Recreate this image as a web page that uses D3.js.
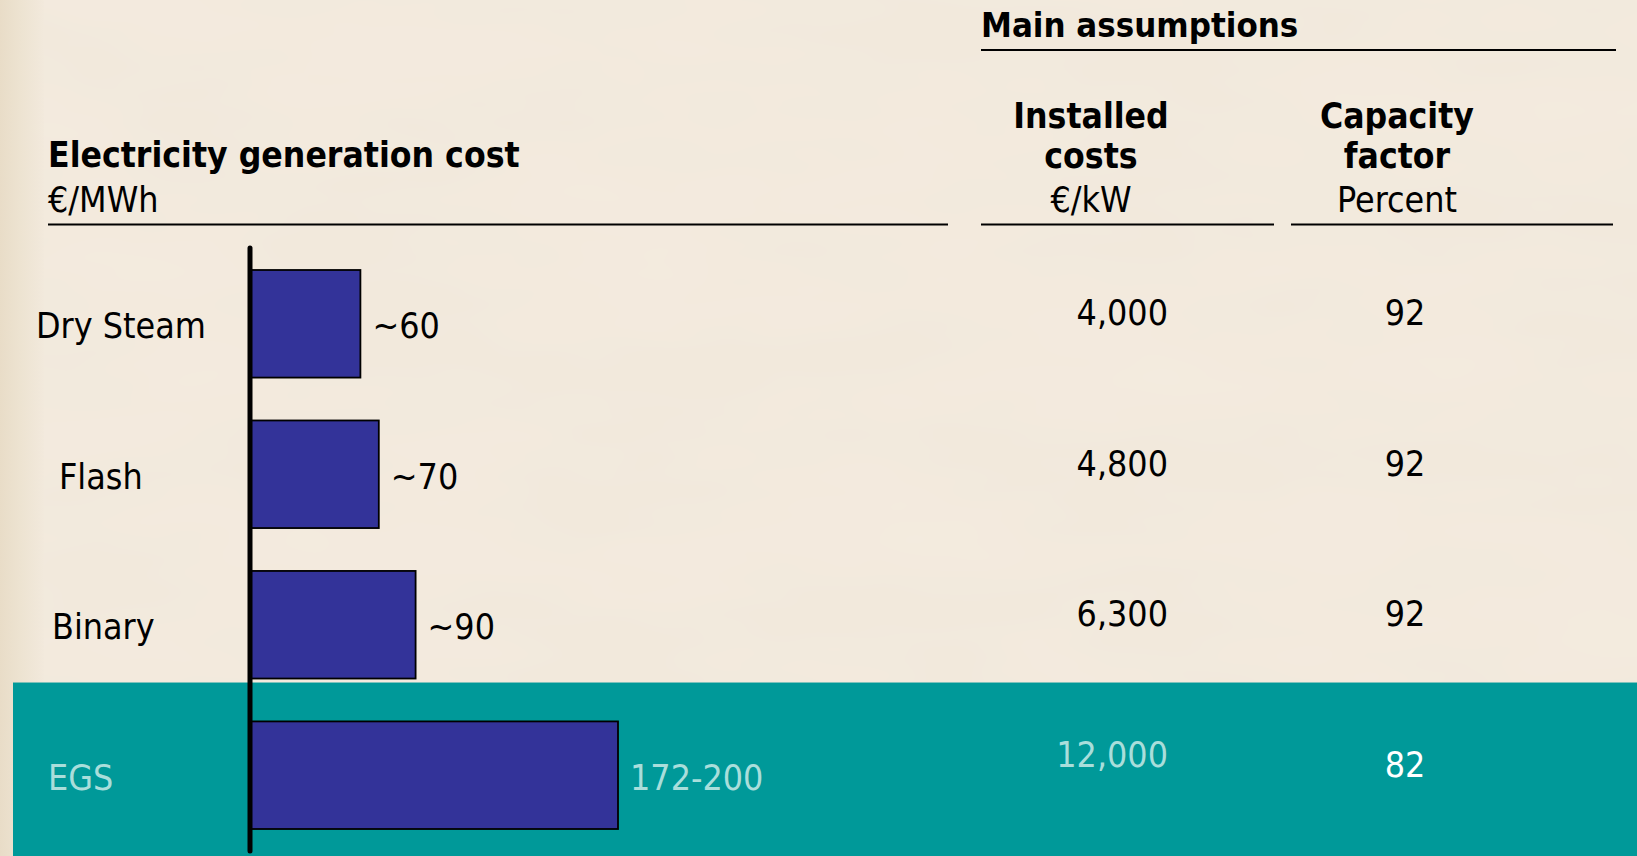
<!DOCTYPE html>
<html>
<head>
<meta charset="utf-8">
<script src="https://cdn.jsdelivr.net/npm/d3@7/dist/d3.min.js"></script>
<style>
  html, body { margin: 0; padding: 0; background: #f2e9dc; }
  svg { display: block; }
  text { font-family: "DejaVu Sans Condensed", "DejaVu Sans", sans-serif; font-stretch: condensed; }
</style>
</head>
<body>
<svg id="chart" width="1637" height="856"></svg>
<script>
// Geothermal technologies: generation cost and main assumptions
const categories = ["Dry Steam", "Flash", "Binary", "EGS"];
const costValues = [60, 70, 90, 200];
const costLabels = ["~60", "~70", "~90", "172-200"];
const installedCosts = [4000, 4800, 6300, 12000];
const capacityFactors = [92, 92, 92, 82];
const highlighted = ["EGS"];

// per-row nudges for the category labels
const labelX = [36, 59, 52, 48];

const W = 1637, H = 856;
const FS = 35.5;
const svg = d3.select("#chart");

// parchment-like background
const defs = svg.append("defs");
const lg = defs.append("linearGradient").attr("id", "edge").attr("x1", 0).attr("x2", 1);
lg.append("stop").attr("offset", 0).attr("stop-color", "#e6d9c2");
lg.append("stop").attr("offset", 0.5).attr("stop-color", "#ece2cf");
lg.append("stop").attr("offset", 1).attr("stop-color", "#f2e9dc");
const tex = defs.append("filter").attr("id", "grain").attr("x", 0).attr("y", 0).attr("width", 1).attr("height", 1);
tex.append("feTurbulence").attr("type", "fractalNoise").attr("baseFrequency", "0.004 0.012").attr("numOctaves", 3).attr("seed", 7);
tex.append("feColorMatrix").attr("type", "matrix")
  .attr("values", "0 0 0 0 0.93  0 0 0 0 0.88  0 0 0 0 0.80  0 0 0 0.35 -0.08");

svg.append("rect").attr("width", W).attr("height", H).attr("fill", "#f2e9dc");
svg.append("rect").attr("width", W).attr("height", H).attr("filter", "url(#grain)");
svg.append("rect").attr("width", 44).attr("height", H).attr("fill", "url(#edge)").attr("opacity", 0.8);

// scales
const y = d3.scaleBand().domain(categories).range([270, 829]).paddingInner(0.285).paddingOuter(0);
const x = d3.scaleLinear().domain([0, 200]).range([250, 618]);

// highlight band behind the EGS row, starting just under the previous bar
const gap = y.step() - y.bandwidth();
const bandTop = d => y(d) - gap + 4;
svg.selectAll("rect.band").data(highlighted).join("rect")
  .attr("class", "band")
  .attr("x", 13)
  .attr("y", bandTop)
  .attr("width", W - 13)
  .attr("height", d => H - bandTop(d))
  .attr("fill", "#009999");

const isHi = d => highlighted.includes(d);

// header rules
const rules = [
  [48, 948, 224.5], [981, 1274, 224.5], [1291, 1613, 224.5], [981, 1616, 50]
];
svg.selectAll("line.rule").data(rules).join("line")
  .attr("class", "rule")
  .attr("x1", d => d[0]).attr("x2", d => d[1])
  .attr("y1", d => d[2]).attr("y2", d => d[2])
  .attr("stroke", "#000").attr("stroke-width", 2);

// headers
const hdr = svg.append("g").attr("fill", "#000");
hdr.append("text").attr("x", 981).attr("y", 37).attr("font-size", 34.5).attr("font-weight", "bold").text("Main assumptions");
hdr.append("text").attr("x", 48).attr("y", 167).attr("font-size", 35.2).attr("font-weight", "bold").text("Electricity generation cost");
hdr.append("text").attr("x", 48).attr("y", 212).attr("font-size", FS).text("€/MWh");

hdr.append("text").attr("x", 1091).attr("y", 128).attr("text-anchor", "middle").attr("font-size", 35.2).attr("font-weight", "bold").text("Installed");
hdr.append("text").attr("x", 1091).attr("y", 168).attr("text-anchor", "middle").attr("font-size", 35.2).attr("font-weight", "bold").text("costs");
hdr.append("text").attr("x", 1091).attr("y", 212).attr("text-anchor", "middle").attr("font-size", FS).text("€/kW");

hdr.append("text").attr("x", 1397).attr("y", 128).attr("text-anchor", "middle").attr("font-size", 35.2).attr("font-weight", "bold").text("Capacity");
hdr.append("text").attr("x", 1397).attr("y", 168).attr("text-anchor", "middle").attr("font-size", 35.2).attr("font-weight", "bold").text("factor");
hdr.append("text").attr("x", 1397).attr("y", 212).attr("text-anchor", "middle").attr("font-size", FS).text("Percent");

// bars
svg.selectAll("rect.bar").data(categories).join("rect")
  .attr("class", "bar")
  .attr("x", x(0))
  .attr("y", d => y(d))
  .attr("width", (d, i) => x(costValues[i]) - x(0))
  .attr("height", y.bandwidth())
  .attr("fill", "#333399")
  .attr("stroke", "#000")
  .attr("stroke-width", 1.8);

// baseline axis
svg.append("line")
  .attr("x1", x(0)).attr("x2", x(0))
  .attr("y1", 248).attr("y2", 851)
  .attr("stroke", "#000").attr("stroke-width", 5).attr("stroke-linecap", "round");

// category labels
svg.selectAll("text.cat").data(categories).join("text")
  .attr("class", "cat")
  .attr("x", (d, i) => labelX[i])
  .attr("y", d => y(d) + y.bandwidth() / 2 + 2)
  .attr("dy", "0.35em")
  .attr("font-size", FS)
  .attr("fill", d => isHi(d) ? "#a9dedb" : "#000")
  .text(d => d);

// value labels next to bars
svg.selectAll("text.val").data(categories).join("text")
  .attr("class", "val")
  .attr("x", (d, i) => x(costValues[i]) + 12)
  .attr("y", d => y(d) + y.bandwidth() / 2 + 2)
  .attr("dy", "0.35em")
  .attr("font-size", FS)
  .attr("fill", d => isHi(d) ? "#a9dedb" : "#000")
  .text((d, i) => costLabels[i]);

// assumption columns
const fmt = d3.format(",");
svg.selectAll("text.inst").data(categories).join("text")
  .attr("class", "inst")
  .attr("x", 1168)
  .attr("y", d => y(d) + y.bandwidth() / 2 - (isHi(d) ? 21 : 11))
  .attr("dy", "0.35em")
  .attr("text-anchor", "end")
  .attr("font-size", FS)
  .attr("fill", d => isHi(d) ? "#a9dedb" : "#000")
  .text((d, i) => fmt(installedCosts[i]));

svg.selectAll("text.cap").data(categories).join("text")
  .attr("class", "cap")
  .attr("x", 1405)
  .attr("y", d => y(d) + y.bandwidth() / 2 - 11)
  .attr("dy", "0.35em")
  .attr("text-anchor", "middle")
  .attr("font-size", FS)
  .attr("fill", d => isHi(d) ? "#ffffff" : "#000")
  .text((d, i) => capacityFactors[i]);
</script>
</body>
</html>
